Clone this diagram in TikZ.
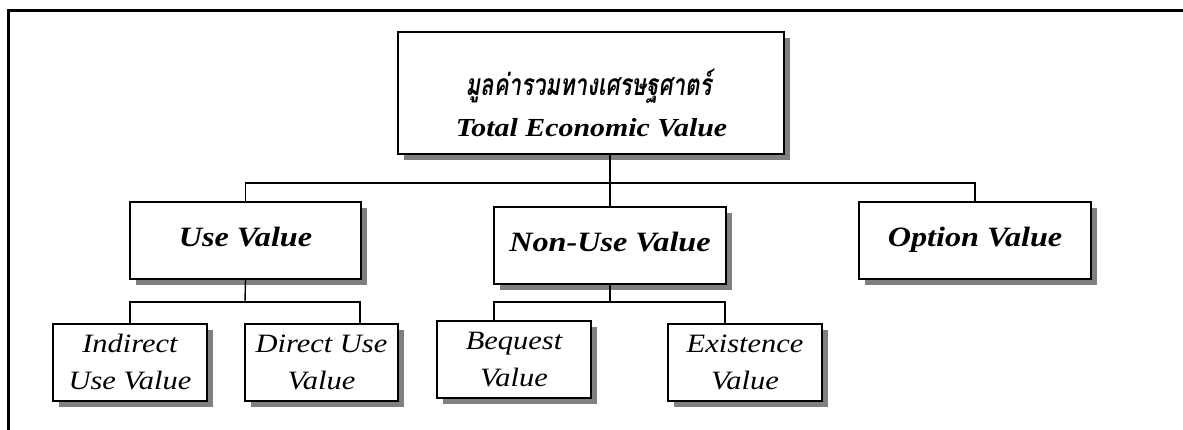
\documentclass[tikz,border=0pt]{standalone}
\usepackage{fontspec}
\setmainfont{Liberation Serif}[FakeStretch=1.15]
\newfontfamily\thaifont[Script=Thai,FakeStretch=0.74]{Loma}
\usetikzlibrary{shadows}
\begin{document}
\begin{tikzpicture}[x=1pt,y=-1pt,
  shad/.style={drop shadow={shadow xshift=6pt,shadow yshift=-6pt,fill=black!50,opacity=1}},
  topbox/.style={draw,fill=white,line width=2.3pt,inner sep=0pt,shad},
  toptext/.style={anchor=base,inner sep=0pt},
  midbox/.style={draw,fill=white,line width=2pt,inner sep=0pt,shad,minimum height=77pt,
     text height=19pt,text depth=6pt,
     font=\fontsize{28}{32}\selectfont\bfseries\itshape},
  leafbox/.style={draw,fill=white,line width=1.7pt,inner sep=0pt,shad,minimum height=77pt,
     align=center,font=\fontsize{26.5}{37}\selectfont\itshape},
  conn/.style={line width=1.4pt},
  frameline/.style={line width=3pt}]
\useasboundingbox (0,0) rectangle (1183,430);
% frame
\coordinate (fa) at (1183,11);
\coordinate (fb) at (8.5,11);
\coordinate (fc) at (8.5,430);
\draw[frameline] (fa) -- (fb) -- (fc);
% nodes
\node[topbox,minimum width=386pt,minimum height=122pt] (top) at (591,93) {};
\node[toptext,font=\thaifont\fontsize{30}{34}\selectfont\bfseries\itshape] (thai) at (588.5,96) {มูลค่ารวมทางเศรษฐศาตร์};
\node[toptext,font=\fontsize{26}{30}\selectfont\bfseries\itshape] (tev) at (591.5,137) {Total Economic Value};
\node[midbox,minimum width=231pt] (use) at (245.5,240.5) {Use Value};
\node[midbox,minimum width=232pt] (nonuse) at (610,245.5) {Non-Use Value};
\node[midbox,minimum width=232pt] (option) at (975,240.5) {Option Value};
\node[leafbox,minimum width=154pt] (indirect) at (130,362.5) {Indirect\\Use Value};
\node[leafbox,minimum width=153pt] (direct) at (321.5,362.5) {Direct Use\\Value};
\node[leafbox,minimum width=154pt] (bequest) at (514,359.5) {Bequest\\Value};
\node[leafbox,minimum width=154pt] (existence) at (745,362.5) {Existence\\Value};
% connectors
\coordinate (tj) at (610,183);
\draw[conn] (top.south -| tj) -- (tj);
\draw[conn] (use.north) |- (tj) -| (option.north);
\draw[conn] (tj) -- (nonuse.north);
\coordinate (uj) at (245,302);
\coordinate (ur) at (360,302);
\draw[conn] (use.south) -- (uj);
\draw[conn] (indirect.north) |- (ur) -- (ur |- direct.north);
\coordinate (nj) at (610,302);
\coordinate (nl) at (494,302);
\coordinate (nr) at (725,302);
\draw[conn] (nonuse.south) -- (nj);
\draw[conn] (nl |- bequest.north) -- (nl) -- (nr) -- (nr |- existence.north);
\end{tikzpicture}
\end{document}
